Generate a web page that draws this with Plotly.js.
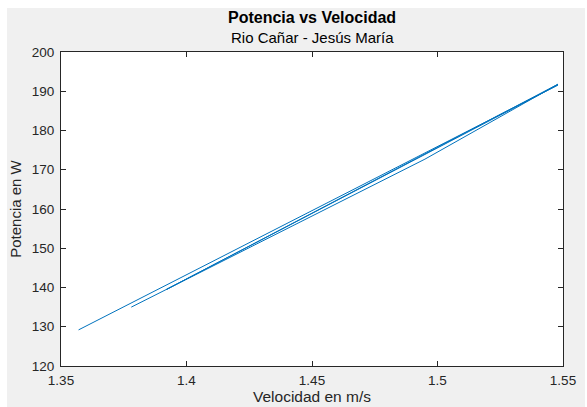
<!DOCTYPE html>
<html>
<head>
<meta charset="utf-8">
<script src="https://cdn.plot.ly/plotly-3.0.1.min.js"></script>
<style>
html,body{margin:0;padding:0;background:#ffffff;width:587px;height:407px;overflow:hidden;}
#plot{position:absolute;left:7px;top:8px;width:578px;height:399px;}
</style>
</head>
<body>
<div id="plot"></div>
<script>
// Velocity (m/s) and power (W), in the order they are connected
var velocidad = [1.378, 1.495, 1.548, 1.392, 1.548, 1.357];
var potencia  = [135.0, 172.7, 191.8, 139.5, 191.6, 129.2];

var xTicks = [1.35, 1.4, 1.45, 1.5, 1.55];
var xTickLabels = ['1.35', '1.4', '1.45', '1.5', '1.55'];
var yTicks = [120, 130, 140, 150, 160, 170, 180, 190, 200];

var tituloPrincipal = 'Potencia vs Velocidad';
var subtitulo = 'Rio Cañar - Jesús María';

var axisCommon = {
  showgrid: false, zeroline: false, automargin: false,
  showline: true, linecolor: '#262626', linewidth: 1, mirror: 'ticks',
  ticks: 'inside', ticklen: 5, tickcolor: '#262626', tickwidth: 1,
  tickfont: {family: 'Liberation Sans, Arial, sans-serif', size: 13.5, color: '#262626'}
};

var trace = {
  x: velocidad, y: potencia, type: 'scatter', mode: 'lines',
  line: {color: '#0072BD', width: 1}, hoverinfo: 'none'
};

var layout = {
  width: 578, height: 399,
  margin: {l: 54, r: 22, t: 44, b: 41},
  paper_bgcolor: '#f0f0f0', plot_bgcolor: '#ffffff',
  showlegend: false,
  font: {family: 'Liberation Sans, Arial, sans-serif', color: '#262626'},
  xaxis: Object.assign({}, axisCommon, {
    range: [1.35, 1.55], tickvals: xTicks, ticktext: xTickLabels,
    ticklabelstandoff: 2,
    title: {text: 'Velocidad en m/s', font: {size: 15.5, color: '#262626'}, standoff: 2}
  }),
  yaxis: Object.assign({}, axisCommon, {
    range: [120, 200], tickvals: yTicks,
    ticklabelstandoff: 3,
    title: {text: 'Potencia en W', font: {size: 15, color: '#262626'}, standoff: 6}
  }),
  annotations: [
    {text: '<b>' + tituloPrincipal + '</b>', xref: 'paper', yref: 'paper', x: 0.5, y: 1, yshift: 24,
     showarrow: false, yanchor: 'bottom', font: {size: 16, color: '#000000'}},
    {text: subtitulo, xref: 'paper', yref: 'paper', x: 0.5, y: 1, yshift: 4,
     showarrow: false, yanchor: 'bottom', font: {size: 15, color: '#000000'}}
  ]
};

Plotly.newPlot('plot', [trace], layout, {displayModeBar: false, staticPlot: true});
</script>
</body>
</html>
